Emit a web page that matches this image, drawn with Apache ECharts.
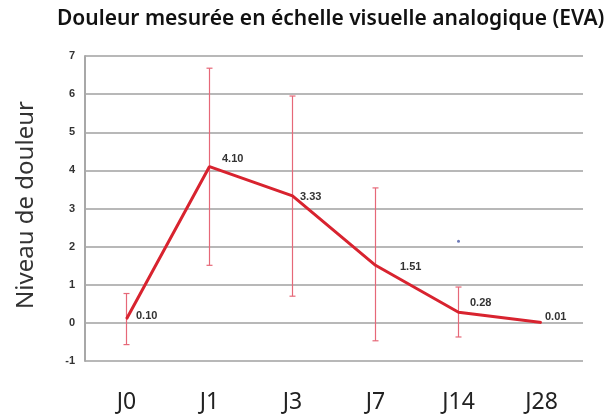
<!DOCTYPE html>
<html>
<head>
<meta charset="utf-8">
<script src="https://cdn.jsdelivr.net/npm/echarts@6/dist/echarts.min.js"></script>
<style>
  html, body { margin: 0; padding: 0; background: #fff; }
  #chart { width: 614px; height: 414px; }
</style>
</head>
<body>
<div id="chart"></div>
<script>
  // données
  const days = ['J0', 'J1', 'J3', 'J7', 'J14', 'J28'];
  const meanPain = [0.10, 4.10, 3.33, 1.51, 0.28, 0.01];
  const errLow = [-0.57, 1.51, 0.70, -0.47, -0.37, null];
  const errHigh = [0.77, 6.68, 5.95, 3.54, 0.94, null];
  const yTicks = [-1, 0, 1, 2, 3, 4, 5, 6, 7];
  const strayDot = [['J14', 2.14]];

  // décalage des étiquettes (placées à la main sur l'original)
  const labelShift = [[9, -3], [12, -8], [7, 1], [24, 2], [11, -9], [3, -6]];

  const chart = echarts.init(document.getElementById('chart'));

  // barres d'erreur
  const errData = days.map((d, i) => [i, errLow[i], errHigh[i]]).filter(r => r[1] !== null);

  const option = {
    animation: false,
    title: {
      text: 'Douleur mesurée en échelle visuelle analogique (EVA)',
      left: 52,
      top: 4,
      textStyle: {
        fontFamily: 'Noto Sans',
        fontSize: 21,
        fontWeight: 600,
        color: '#111'
      }
    },
    grid: { left: 85, right: 31, top: 56, bottom: 53 },
    xAxis: {
      type: 'category',
      data: days,
      axisTick: { show: false },
      axisLine: { show: false },
      axisLabel: {
        margin: 30,
        fontFamily: 'Noto Sans',
        fontSize: 23,
        color: '#222'
      }
    },
    yAxis: {
      type: 'value',
      min: yTicks[0],
      max: yTicks[yTicks.length - 1],
      interval: 1,
      name: 'Niveau de douleur',
      nameLocation: 'middle',
      nameGap: 47,
      nameTextStyle: {
        fontFamily: 'Noto Sans',
        fontSize: 24,
        color: '#333',
        padding: [0, 0, 0, 7]
      },
      axisLine: { show: true, lineStyle: { color: '#a8a8a8', width: 2 } },
      axisTick: { show: false },
      axisLabel: {
        margin: 10,
        fontFamily: 'Liberation Sans',
        fontWeight: 'bold',
        fontSize: 11,
        color: '#333'
      },
      splitLine: { lineStyle: { color: '#b8b8b8', width: 2 } }
    },
    series: [
      {
        type: 'custom',
        data: errData,
        z: 2,
        renderItem(params, api) {
          const x = api.value(0);
          const lo = api.coord([x, api.value(1)]);
          const hi = api.coord([x, api.value(2)]);
          const w = 3;
          const st = { stroke: '#e66878', lineWidth: 1.2 };
          return {
            type: 'group',
            children: [
              { type: 'line', shape: { x1: lo[0], y1: lo[1], x2: hi[0], y2: hi[1] }, style: st },
              { type: 'line', shape: { x1: lo[0] - w, y1: lo[1], x2: lo[0] + w, y2: lo[1] }, style: st },
              { type: 'line', shape: { x1: hi[0] - w, y1: hi[1], x2: hi[0] + w, y2: hi[1] }, style: st }
            ]
          };
        }
      },
      {
        type: 'line',
        data: meanPain.map((v, i) => ({ value: v, label: { offset: labelShift[i] } })),
        z: 3,
        symbol: 'circle',
        symbolSize: 1,
        showSymbol: true,
        itemStyle: { color: '#d8232f' },
        lineStyle: { color: '#d8232f', width: 3 },
        label: {
          show: true,
          position: 'right',
          distance: 0,
          formatter: p => p.value.toFixed(2),
          fontFamily: 'Liberation Sans',
          fontWeight: 'bold',
          fontSize: 11,
          color: '#333'
        }
      },
      {
        type: 'scatter',
        data: strayDot,
        symbolSize: 3,
        itemStyle: { color: '#4a5aa8' },
        silent: true
      }
    ]
  };

  chart.setOption(option);
</script>
</body>
</html>
